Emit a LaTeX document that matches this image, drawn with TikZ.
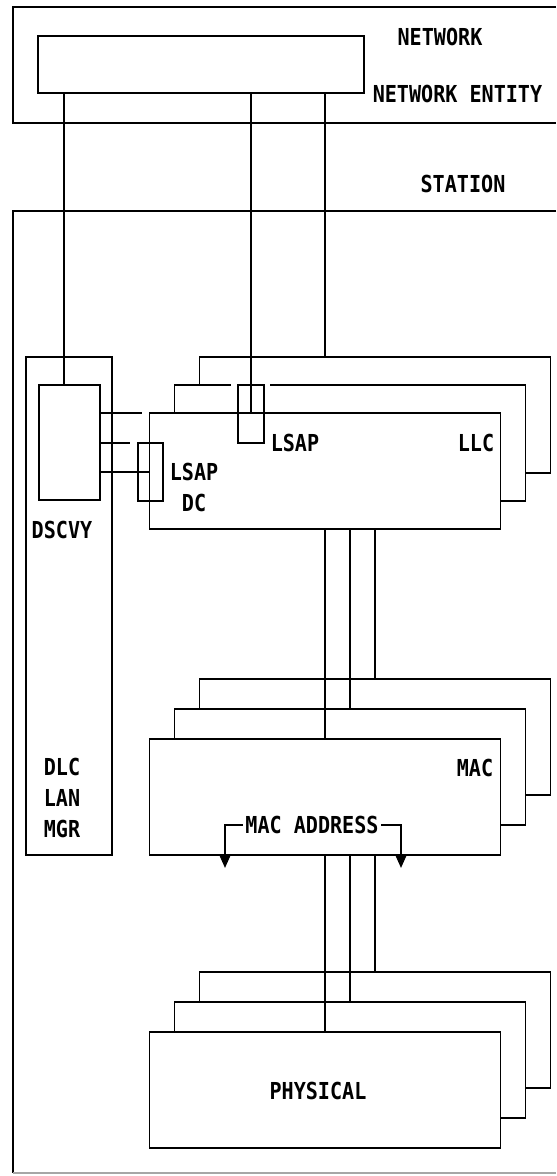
\documentclass[tikz,border=0pt]{standalone}
\usepackage{fontspec}
\setmainfont{DejaVu Sans Mono}[FakeStretch=0.86]
\usetikzlibrary{arrows.meta}

\begin{document}
\begin{tikzpicture}[
  x=0.2mm,y=-0.2mm,
  line width=1.1pt,
  every node/.style={font=\fontsize{13.3}{17.5}\selectfont\bfseries},
  box/.style={draw,fill=white,inner sep=0pt,outer sep=0pt},
  layer/.style={box,minimum width=70.2mm,minimum height=23.2mm},
  sapbox/.style={draw,inner sep=0pt,outer sep=0pt,minimum width=5.2mm,minimum height=11.6mm},
  lbl/.style={inner sep=0pt,align=center},
  addr/.style={-{Triangle[length=2.6mm,width=2.2mm]}}
]
  \useasboundingbox (0,0) rectangle (556,1176);

  % Network
  \draw (556,7) -- (13,7) -- (13,123) -- (556,123);
  \node[box,minimum width=65.2mm,minimum height=11.4mm] (entity) at (201,64.5) {};
  \node[lbl] (network) at (440,37) {NETWORK};
  \node[lbl] (entitylbl) at (457.5,93.5) {NETWORK ENTITY};

  % Station
  \node[lbl] (station) at (463,184) {STATION};
  \draw (556,211) -- (13,211) -- (13,1173);
  \draw[black!35] (13,1173) -- (556,1173);

  % DLC LAN manager
  \node[box,minimum width=17.2mm,minimum height=99.6mm] (mgr) at (69,606) {};
  \node[box,minimum width=12.2mm,minimum height=23mm] (dscvy) at (69.5,442.5) {};
  \node[lbl] (dscvylbl) at (62,530) {DSCVY};
  \node[lbl] (mgrlbl) at (62,798) {DLC\\LAN\\MGR};

  % LLC
  \node[layer] (llc3) at (375,415) {};
  \node[layer] (llc2) at (350,443) {};
  \node[layer] (llc1) at (325,471) {};
  \fill[white] (231,382) rectangle (270,388);
  \node[sapbox] (lsap) at (251,414) {};
  \node[sapbox,minimum width=5mm] (lsapdc) at (150.5,472) {};
  \node[lbl] (lsaplbl) at (295,443) {LSAP};
  \node[lbl] (lsapdclbl) at (194,487.5) {LSAP\\DC};
  \node[lbl] (llclbl) at (476,443) {LLC};

  % MAC
  \node[layer] (mac3) at (375,737) {};
  \node[layer] (mac2) at (350,767) {};
  \node[layer] (mac1) at (325,797) {};
  \node[lbl] (maclbl) at (475,768) {MAC};

  % Physical
  \node[layer] (phy3) at (375,1030) {};
  \node[layer] (phy2) at (350,1060) {};
  \node[layer] (phy1) at (325,1090) {};
  \node[lbl] (phylbl) at (318,1091) {PHYSICAL};

  % Network entity to station
  \coordinate (dscvyin) at ([xshift=-1.1mm]dscvy.north);
  \draw (dscvyin |- entity.south) -- (dscvyin);
  \draw (lsap |- entity.south) -- (lsap |- llc1.north);
  \draw (llc1 |- entity.south) -- (llc1 |- llc3.north);

  % DSCVY to LLC
  \coordinate (stubA) at (142,413);
  \coordinate (stubB) at (130,443);
  \draw (dscvy.east |- stubA) -- (stubA);
  \draw (dscvy.east |- stubB) -- (stubB);
  \draw (dscvy.east |- lsapdc) -- (llc1.west |- lsapdc);

  % LLC to MAC
  \draw (llc1.south) -- (mac1.north);
  \draw (llc2 |- llc1.south) -- (mac2.north);
  \draw (llc3 |- llc1.south) -- (mac3.north);

  % MAC to physical
  \draw (mac1.south) -- (phy1.north);
  \draw (mac2 |- mac1.south) -- (phy2.north);
  \draw (mac3 |- mac1.south) -- (phy3.north);

  % MAC address
  \node[lbl,inner sep=1pt] (macaddr) at (312,825) {MAC ADDRESS};
  \coordinate (addrL) at (225,868);
  \coordinate (addrR) at (401,868);
  \draw[addr] (macaddr.west) -| (addrL);
  \draw[addr] (macaddr.east) -| (addrR);
\end{tikzpicture}
\end{document}
